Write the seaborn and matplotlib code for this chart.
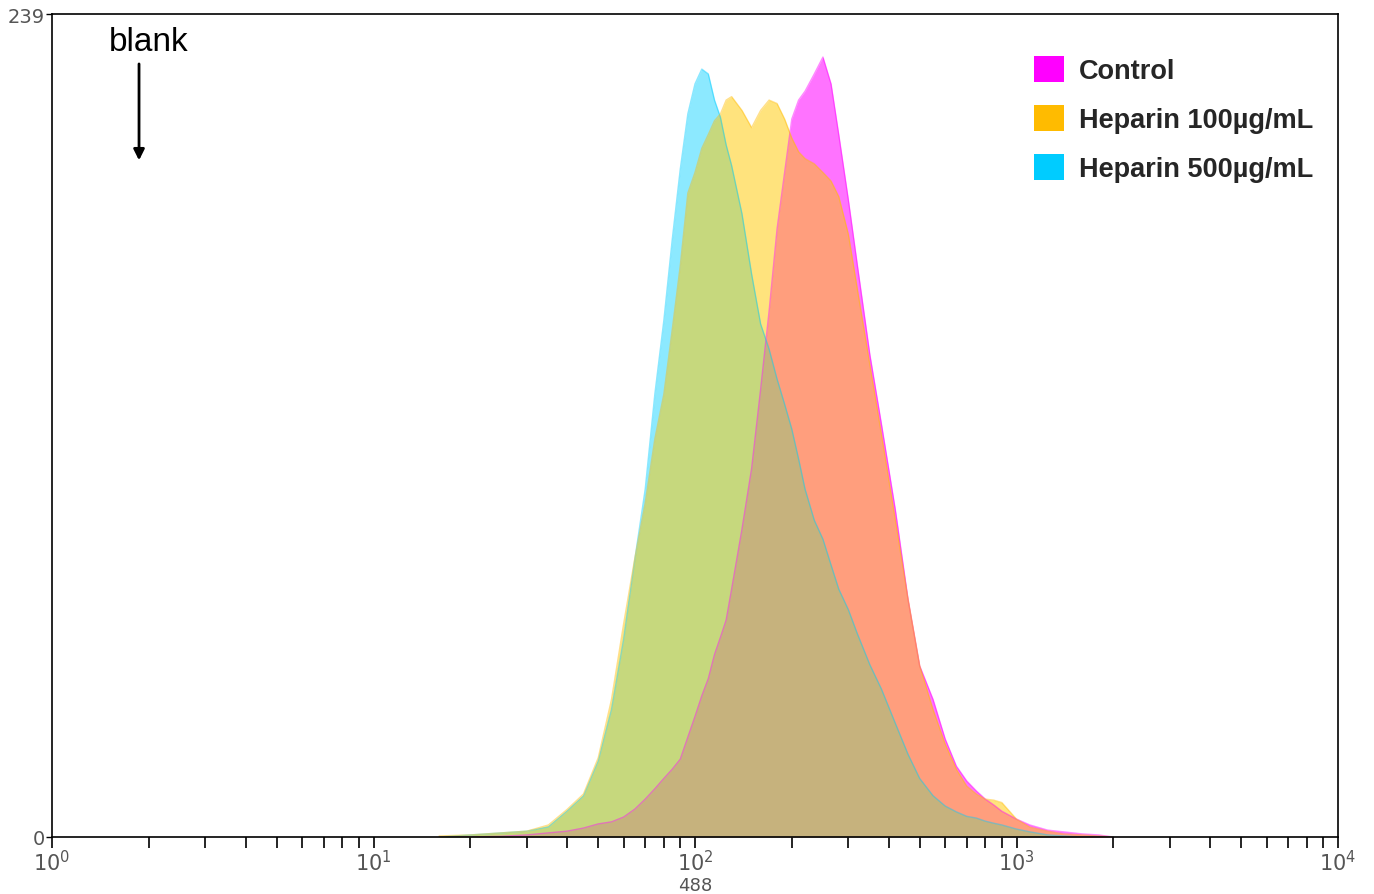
import numpy as np
import pandas as pd
import matplotlib
matplotlib.use("Agg")
import matplotlib.pyplot as plt
import seaborn as sns
from matplotlib.patches import Patch
from matplotlib.ticker import FixedLocator, NullFormatter

channels = [16, 20, 25, 30, 35, 40, 45, 50, 55, 60, 65, 70, 75, 80, 85, 90, 95,
            100, 105, 110, 115, 120, 125, 130, 140, 150, 160, 170, 180, 190, 200,
            210, 220, 235, 250, 265, 280, 300, 320, 350, 380, 420, 460, 500, 550,
            600, 650, 700, 750, 800, 850, 900, 1000, 1100, 1250, 1400, 1600, 1800, 2000]

control = [0, 0, 0.2, 0.6, 1.2, 1.7, 2.6, 3.8, 4.4, 5.8, 8.1, 11, 14, 17, 19.7, 22.6, 29,
           35, 41, 46, 53, 58, 63, 72, 89.4, 107, 130, 152.7, 176.6, 193, 208.5,
           214, 216.6, 221.6, 226.5, 218.7, 204, 185, 166, 140, 120, 95, 69, 49.7, 40,
           28.5, 20.6, 16.3, 13.4, 11, 9.3, 7.5, 5.2, 3.5, 2, 1.5, 0.9, 0.6, 0]

heparin_100 = [0.3, 0.6, 1.2, 1.7, 3.5, 8, 12.5, 23, 40, 62, 81, 97, 115.6, 128.6, 147.5, 166, 187,
               193, 200, 204, 208, 210, 214, 215, 211, 206, 211, 214, 213, 208.5, 203,
               199, 197, 195.5, 193, 190.5, 186, 175, 159, 137, 117, 92, 69, 49.7, 37,
               27, 19.7, 14.8, 12.5, 11, 10.7, 10, 5.2, 2.9, 1.7, 0.9, 0.6, 0.3, 0]

heparin_500 = [0, 0.6, 1.2, 1.7, 2.9, 7.5, 11.9, 22, 37, 57.5, 80.7, 101, 128.6, 150, 173.7, 194, 210,
               218.7, 223, 221.6, 214, 209, 201, 195, 181, 163.5, 149, 141.7, 133, 125.7, 118.5,
               109.8, 101, 92, 86.5, 79, 72, 66, 59, 50, 43, 33, 24, 17, 12,
               9, 7.3, 6, 5.5, 4.6, 4, 3.5, 2.3, 1.5, 0.6, 0.3, 0, 0, 0]

labels = ["Control", "Heparin 100µg/mL", "Heparin 500µg/mL"]
legend_colors = {"Control": "#FF00FF", "Heparin 100µg/mL": "#FFBB00", "Heparin 500µg/mL": "#00CCFF"}
fill_colors = {"Control": "#FF00FF", "Heparin 100µg/mL": "#FFC800", "Heparin 500µg/mL": "#00D0FF"}
alphas = {"Control": 0.55, "Heparin 100µg/mL": 0.51, "Heparin 500µg/mL": 0.45}

df = pd.concat([
    pd.DataFrame({"channel": channels, "count": control, "sample": labels[0]}),
    pd.DataFrame({"channel": channels, "count": heparin_500, "sample": labels[2]}),
    pd.DataFrame({"channel": channels, "count": heparin_100, "sample": labels[1]}),
])

sns.set_style("white")
plt.rcParams["font.family"] = ["Liberation Sans", "DejaVu Sans"]

fig = plt.figure(figsize=(13.74, 8.95), dpi=100)
ax = fig.add_axes([52 / 1374, 1 - 838 / 895, (1338 - 52) / 1374, (838 - 15) / 895])

# drawing order magenta -> cyan -> orange, each fill followed by its outline
for name in [labels[0], labels[2], labels[1]]:
    sub = df[df["sample"] == name]
    ax.fill_between(sub["channel"], 0, sub["count"], color=fill_colors[name],
                    alpha=alphas[name], linewidth=0)
    sns.lineplot(data=sub, x="channel", y="count", color=legend_colors[name], sort=False,
                 linewidth=1.0, alpha=0.45, legend=False, ax=ax)

ax.set_xscale("log")
ax.set_xlim(1, 1e4)
ax.set_ylim(0, 239)

ax.xaxis.set_major_locator(FixedLocator([1, 10, 100, 1000, 10000]))
ax.set_xticklabels([r"$10^0$", r"$10^1$", r"$10^2$", r"$10^3$", r"$10^4$"],
                   family="DejaVu Sans", color="#555555", fontsize=15)
minor = [m * 10 ** d for d in range(4) for m in range(2, 10)]
ax.xaxis.set_minor_locator(FixedLocator(minor))
ax.xaxis.set_minor_formatter(NullFormatter())
ax.set_yticks([0, 239])
ax.set_yticklabels(["0", "239"], family="DejaVu Sans", color="#555555", fontsize=14)

ax.tick_params(axis="x", which="both", direction="out", length=8, width=1.2,
               color="black", pad=1, bottom=True, top=False)
ax.tick_params(axis="y", which="major", direction="out", length=4, width=1.0,
               color="black", pad=1, left=True)
for sp in ax.spines.values():
    sp.set_color("black")
    sp.set_linewidth(1.2)

ax.set_xlabel("488", family="DejaVu Sans", color="#555555", fontsize=13, labelpad=1)
ax.set_ylabel("")

ax.text(2.0, 231.0, "blank", fontsize=24, ha="center", va="center", color="black")
ax.annotate("", xy=(1.865, 196.5), xytext=(1.865, 224.5),
            arrowprops=dict(arrowstyle="-|>", color="black", lw=2,
                            mutation_scale=16, shrinkA=0, shrinkB=0))

handles = [Patch(facecolor=legend_colors[n], edgecolor="none", label=n) for n in labels]
fig.legend(handles=handles, loc="upper left", bbox_to_anchor=(1034 / 1374, 1 - 57 / 895),
           frameon=False, prop={"weight": "bold", "size": 19.5},
           handlelength=1.1, handleheight=1.1, handletextpad=0.55,
           labelspacing=0.76, borderpad=0, borderaxespad=0)

fig.savefig("out.png", dpi=100, facecolor="white")
